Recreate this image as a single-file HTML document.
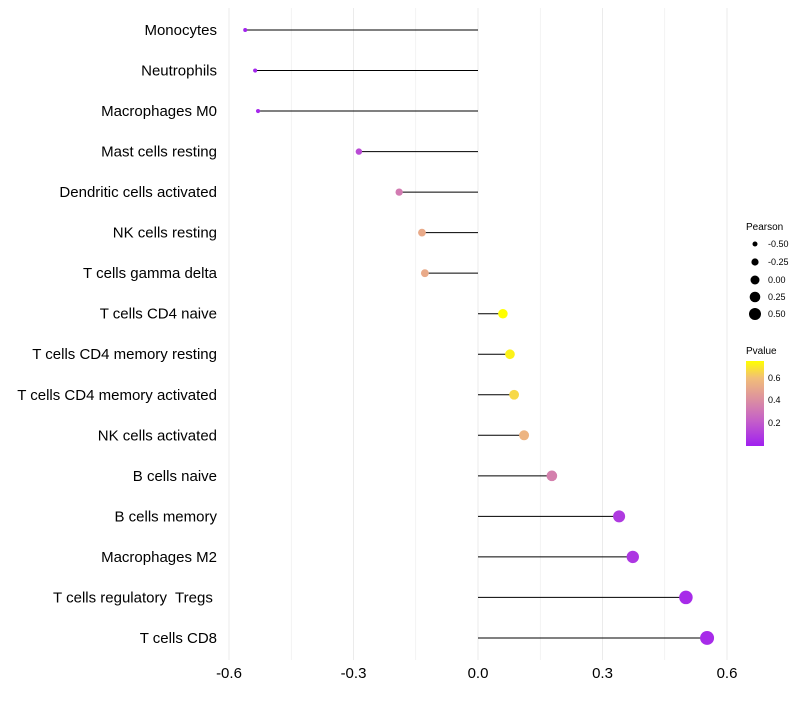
<!DOCTYPE html>
<html><head><meta charset="utf-8"><style>
body{margin:0;background:#fff;font-family:"Liberation Sans",sans-serif}
text{white-space:pre}
</style></head><body>
<svg id="chart" width="800" height="700" xmlns="http://www.w3.org/2000/svg">
<defs><linearGradient id="pg" x1="0" y1="1" x2="0" y2="0">
<stop offset="0" stop-color="#A020F0"/><stop offset="0.3" stop-color="#C560C8"/><stop offset="0.55" stop-color="#DC90A0"/><stop offset="0.8" stop-color="#F2BE78"/><stop offset="1" stop-color="#FFFF00"/></linearGradient></defs>
<g id="grid"></g><g id="marks"></g><g id="labels"></g>
<g font-size="9">
<text x="746" y="230" font-size="10">Pearson</text>
<circle cx="755" cy="244" r="2.5"/><text x="768" y="247">-0.50</text>
<circle cx="755" cy="262" r="3.6"/><text x="768" y="265">-0.25</text>
<circle cx="755" cy="280" r="4.5"/><text x="768" y="283">0.00</text>
<circle cx="755" cy="297" r="5.3"/><text x="768" y="300">0.25</text>
<circle cx="755" cy="314" r="6"/><text x="768" y="317">0.50</text>
</g>
<g font-size="9">
<text x="746" y="354" font-size="10">Pvalue</text>
<rect x="746" y="361" width="18" height="85" fill="url(#pg)"/>
<text x="768" y="381">0.6</text><text x="768" y="403">0.4</text><text x="768" y="426">0.2</text>
</g>
</svg>
<script>
const cells=["Monocytes","Neutrophils","Macrophages M0","Mast cells resting","Dendritic cells activated","NK cells resting","T cells gamma delta","T cells CD4 naive","T cells CD4 memory resting","T cells CD4 memory activated","NK cells activated","B cells naive","B cells memory","Macrophages M2","T cells regulatory  Tregs ","T cells CD8"];
const pearson=[-0.561,-0.537,-0.530,-0.287,-0.190,-0.135,-0.128,0.060,0.077,0.087,0.111,0.178,0.340,0.373,0.501,0.552];
const pvalue=[0.01,0.02,0.03,0.15,0.33,0.52,0.52,0.75,0.72,0.66,0.56,0.35,0.09,0.08,0.04,0.04];
const xticks=[-0.6,-0.3,0,0.3,0.6];
const ns="http://www.w3.org/2000/svg";
const x=v=>478+v*415;
const y=i=>30+i*40.53;
const r=v=>4.5+v*4.5;
function col(p){const t=Math.min(1,p/0.75);
const s=[[0,[160,32,240]],[0.3,[197,96,200]],[0.55,[220,144,160]],[0.8,[242,190,120]],[1,[255,255,0]]];
for(let k=1;k<s.length;k++){if(t<=s[k][0]){const a=s[k-1],b=s[k],f=(t-a[0])/(b[0]-a[0]);return "rgb("+a[1].map((c,j)=>Math.round(c+(b[1][j]-c)*f)).join(",")+")";}}return "rgb(255,255,0)";}
function mk(tag,at,par){const e=document.createElementNS(ns,tag);for(const k in at)e.setAttribute(k,at[k]);document.getElementById(par).appendChild(e);return e;}
for(let g=-0.6;g<=0.601;g+=0.15){const l=mk("line",{x1:x(g),x2:x(g),y1:8,y2:660,stroke:"#ebebeb","stroke-width":Math.abs(Math.round(g/0.15))%2==0?1:0.6},"grid");

}
xticks.forEach(t=>{const e=mk("text",{x:x(t),y:678,"text-anchor":"middle","font-size":15,fill:"#000"},"labels");e.textContent=t==0?"0.0":t.toFixed(1);

});
cells.forEach((c,i)=>{
const l=mk("line",{x1:x(0),x2:x(pearson[i]),y1:y(i),y2:y(i),stroke:"#000","stroke-width":1},"marks");


const d=mk("circle",{cx:x(pearson[i]),cy:y(i),r:r(pearson[i]),fill:col(pvalue[i])},"marks");


const t=mk("text",{x:217,y:y(i)+5,"text-anchor":"end","font-size":15,fill:"#000"},"labels");t.textContent=c;


});
</script>
</body></html>
